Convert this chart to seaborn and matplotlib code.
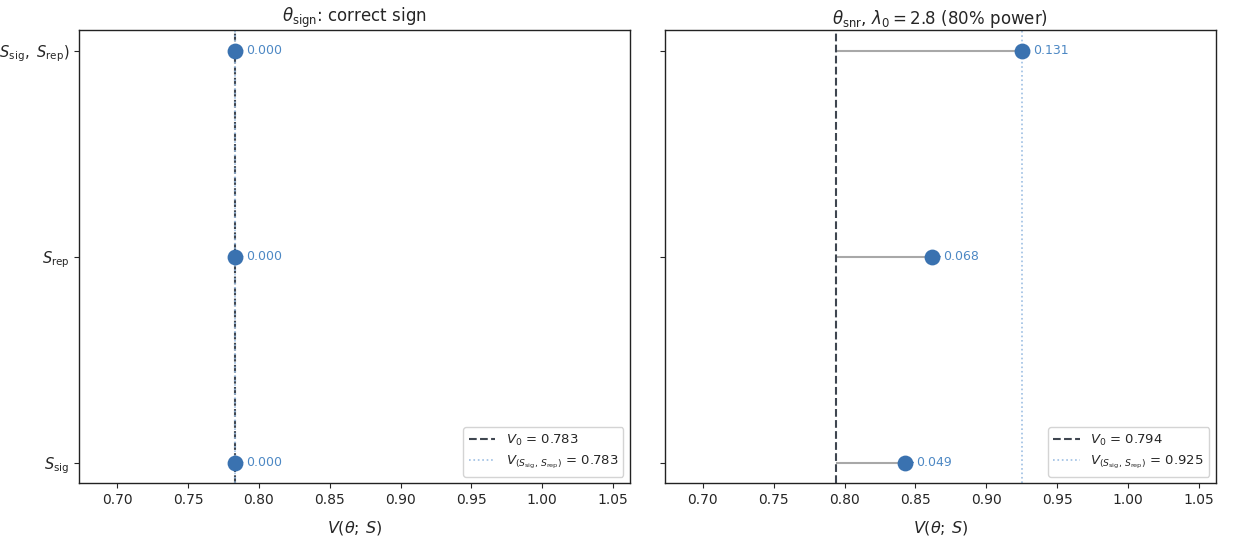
import numpy as np
import pandas as pd
import matplotlib
matplotlib.use("Agg")
import matplotlib.pyplot as plt
import seaborn as sns

# Data
subsets = [r"$S_{\rm sig}$", r"$S_{\rm rep}$", r"$(S_{\rm sig},\ S_{\rm rep})$"]
titles = [r"$\theta_{\rm sign}$: correct sign",
          r"$\theta_{\rm snr}$, $\lambda_0 = 2.8$ (80% power)"]
v0 = [0.783, 0.794]
v_sign = [0.783, 0.783, 0.783]
v_snr = [0.843, 0.862, 0.925]
gain_sign = [0.000, 0.000, 0.000]
gain_snr = [0.049, 0.068, 0.131]

panels = [(v_sign, gain_sign), (v_snr, gain_snr)]

sns.set_style("ticks")
plt.rcParams['font.family'] = ['DejaVu Sans']

MARKER = "#3a72b0"
TEXT = "#4d88c4"
STEM = "#a8a8a8"
V0_COL = "#3f4650"
BEST_COL = "#9dbfe3"

fig = plt.figure(figsize=(12.33, 5.49), dpi=100)
ax1 = fig.add_axes([0.064, 0.12, 0.447, 0.825])
ax2 = fig.add_axes([0.539, 0.12, 0.447, 0.825], sharex=ax1, sharey=ax1)
axes = [ax1, ax2]

for i, ax in enumerate(axes):
    vals, gains = panels[i]
    df = pd.DataFrame({"subset": subsets, "pos": np.arange(len(subsets)),
                       "value": vals, "gain": gains})
    base = v0[i]
    best = max(vals)

    ax.hlines(df["pos"], base, df["value"], color=STEM, lw=1.5, zorder=1)
    ax.axvline(base, color=V0_COL, ls="--", lw=1.5, zorder=2,
               label=rf"$V_0$ = {base:.3f}")
    ax.axvline(best, color=BEST_COL, ls=":", lw=1.2, zorder=2,
               label=rf"$V_{{(S_{{\rm sig}},\, S_{{\rm rep}})}}$ = {best:.3f}")
    sns.scatterplot(data=df, x="value", y="pos", ax=ax, s=130, color=MARKER,
                    edgecolor=MARKER, linewidth=0, zorder=3, legend=False)
    for _, r in df.iterrows():
        ax.annotate(f"{r['gain']:.3f}", xy=(r["value"], r["pos"]),
                    xytext=(8, 0), textcoords="offset points",
                    va="center", ha="left", fontsize=9, color=TEXT, zorder=2.5,
                    arrowprops=dict(arrowstyle="-", color=TEXT, lw=1.1,
                                    shrinkA=0, shrinkB=0))

    ax.set_title(titles[i], fontsize=12, pad=3)
    ax.set_xlabel(r"$V(\theta;\, S)$", fontsize=11.5, labelpad=9)
    ax.set_ylabel("")
    ax.legend(loc="lower right", fontsize=9.5, handlelength=2.0,
              frameon=True, framealpha=0.9, edgecolor="#d0d0d0")
    for s in ax.spines.values():
        s.set_linewidth(1.0)
        s.set_color("#222222")

ax1.set_xlim(0.673, 1.062)
ax1.set_ylim(-0.1, 2.1)
ax1.set_xticks([0.70, 0.75, 0.80, 0.85, 0.90, 0.95, 1.00, 1.05])
ax1.set_yticks(np.arange(len(subsets)))
ax1.set_yticklabels(subsets, fontsize=10.5)
ax2.tick_params(labelleft=False)

fig.savefig("out.png", dpi=100)
